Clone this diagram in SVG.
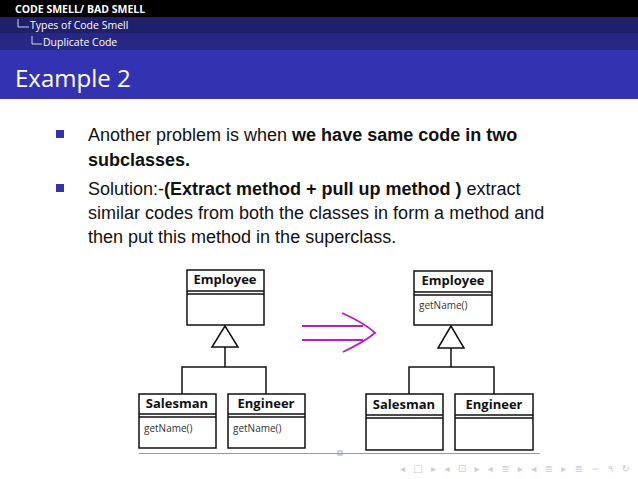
<svg xmlns="http://www.w3.org/2000/svg" width="638" height="479" viewBox="0 0 638 479">
<style>
.hd{font-family:"Open Sans","DejaVu Sans",sans-serif;fill:#fff}
.b{font-family:"Liberation Sans","DejaVu Sans",sans-serif;font-size:18px;fill:#111}
.bx{fill:#fff;stroke:#111;stroke-width:1.5}
.ln{stroke:#111;stroke-width:1.5;fill:none}
.t{font-family:"Open Sans","DejaVu Sans",sans-serif;font-size:13px;font-weight:bold;fill:#111;text-anchor:middle}
.m{font-family:"Open Sans","DejaVu Sans",sans-serif;font-size:10px;fill:#333}
</style>
<rect width="638" height="479" fill="#fff"/>
<rect x="0" y="0" width="638" height="17" fill="#000"/>
<rect x="0" y="17" width="638" height="16" fill="#1f1f6b"/>
<rect x="0" y="33" width="638" height="17" fill="#272785"/>
<rect x="0" y="50" width="638" height="49" fill="#3333b2"/>
<text class="hd" x="15" y="13" font-size="10.5" font-weight="bold">CODE SMELL/ BAD SMELL</text>
<path d="M18 19v8h11" stroke="#fff" fill="none" stroke-width="0.8"/>
<text class="hd" x="30" y="29" font-size="10.5">Types of Code Smell</text>
<path d="M32 36v8h10" stroke="#fff" fill="none" stroke-width="0.8"/>
<text class="hd" x="43" y="46" font-size="10.5">Duplicate Code</text>
<text class="hd" x="15" y="87" font-size="24">Example 2</text>
<rect x="56" y="130" width="8" height="8" fill="#3333b2"/>
<rect x="56" y="184" width="8" height="8" fill="#3333b2"/>
<text class="b" x="88" y="141">Another problem is when <tspan font-weight="bold">we have same code in two</tspan></text>
<text class="b" x="88" y="166" font-weight="bold">subclasses.</text>
<text class="b" x="88" y="195">Solution:-<tspan font-weight="bold">(Extract method + pull up method )</tspan> extract</text>
<text class="b" x="88" y="219">similar codes from both the classes in form a method and</text>
<text class="b" x="88" y="243">then put this method in the superclass.</text>

<g id="connectors">
<path class="ln" d="M225 347V367M182 394V367H266V394"/>
<path class="bx" d="M225 326L212 347H238Z"/>
<path class="ln" d="M451 348V367M409 394V367H494V394"/>
<path class="bx" d="M451 326L438 348H464Z"/>
<g stroke="#b020c8" stroke-width="1.8" fill="none">
<path d="M302 326H363M302 340H363"/>
<path d="M342 313Q366 324 375 333Q364 342 343 352"/>
<path d="M337 318Q357 326 366 333Q356 340 337 348" stroke-width="0"/>
</g>
</g>
<g id="emp1"><rect class="bx" x="187" y="270" width="77" height="55"/><path class="ln" d="M187 291H264M187 294H264"/><text class="t" x="225" y="284">Employee</text></g>
<g id="sales1"><rect class="bx" x="139" y="394" width="77" height="54"/><path class="ln" d="M139 414H216M139 417H216"/><text class="t" x="177" y="408">Salesman</text><text class="m" x="144" y="432">getName()</text></g>
<g id="eng1"><rect class="bx" x="228" y="394" width="77" height="54"/><path class="ln" d="M228 414H305M228 417H305"/><text class="t" x="266" y="408">Engineer</text><text class="m" x="233" y="432">getName()</text></g>
<g id="emp2"><rect class="bx" x="414" y="271" width="78" height="54"/><path class="ln" d="M414 292H492M414 295H492"/><text class="t" x="453" y="285">Employee</text><text class="m" x="419" y="309">getName()</text></g>
<g id="sales2"><rect class="bx" x="366" y="394" width="77" height="56"/><path class="ln" d="M366 415H443M366 418H443"/><text class="t" x="404" y="409">Salesman</text></g>
<g id="eng2"><rect class="bx" x="455" y="394" width="78" height="56"/><path class="ln" d="M455 415H533M455 418H533"/><text class="t" x="494" y="409">Engineer</text></g>
<path d="M139 453.5H540" stroke="#7aa0c8" stroke-width="1"/>
<rect x="338" y="451" width="4" height="4" fill="none" stroke="#7aa0c8" stroke-width="0.8"/>
<text x="400" y="472" font-family="DejaVu Sans,sans-serif" font-size="10" fill="#c8cce0" textLength="230">◂ □ ▸ ◂ ⊡ ▸ ◂ ≣ ▸ ◂ ≣ ▸   ≣   ∽ ۹ ↻</text>
</svg>
